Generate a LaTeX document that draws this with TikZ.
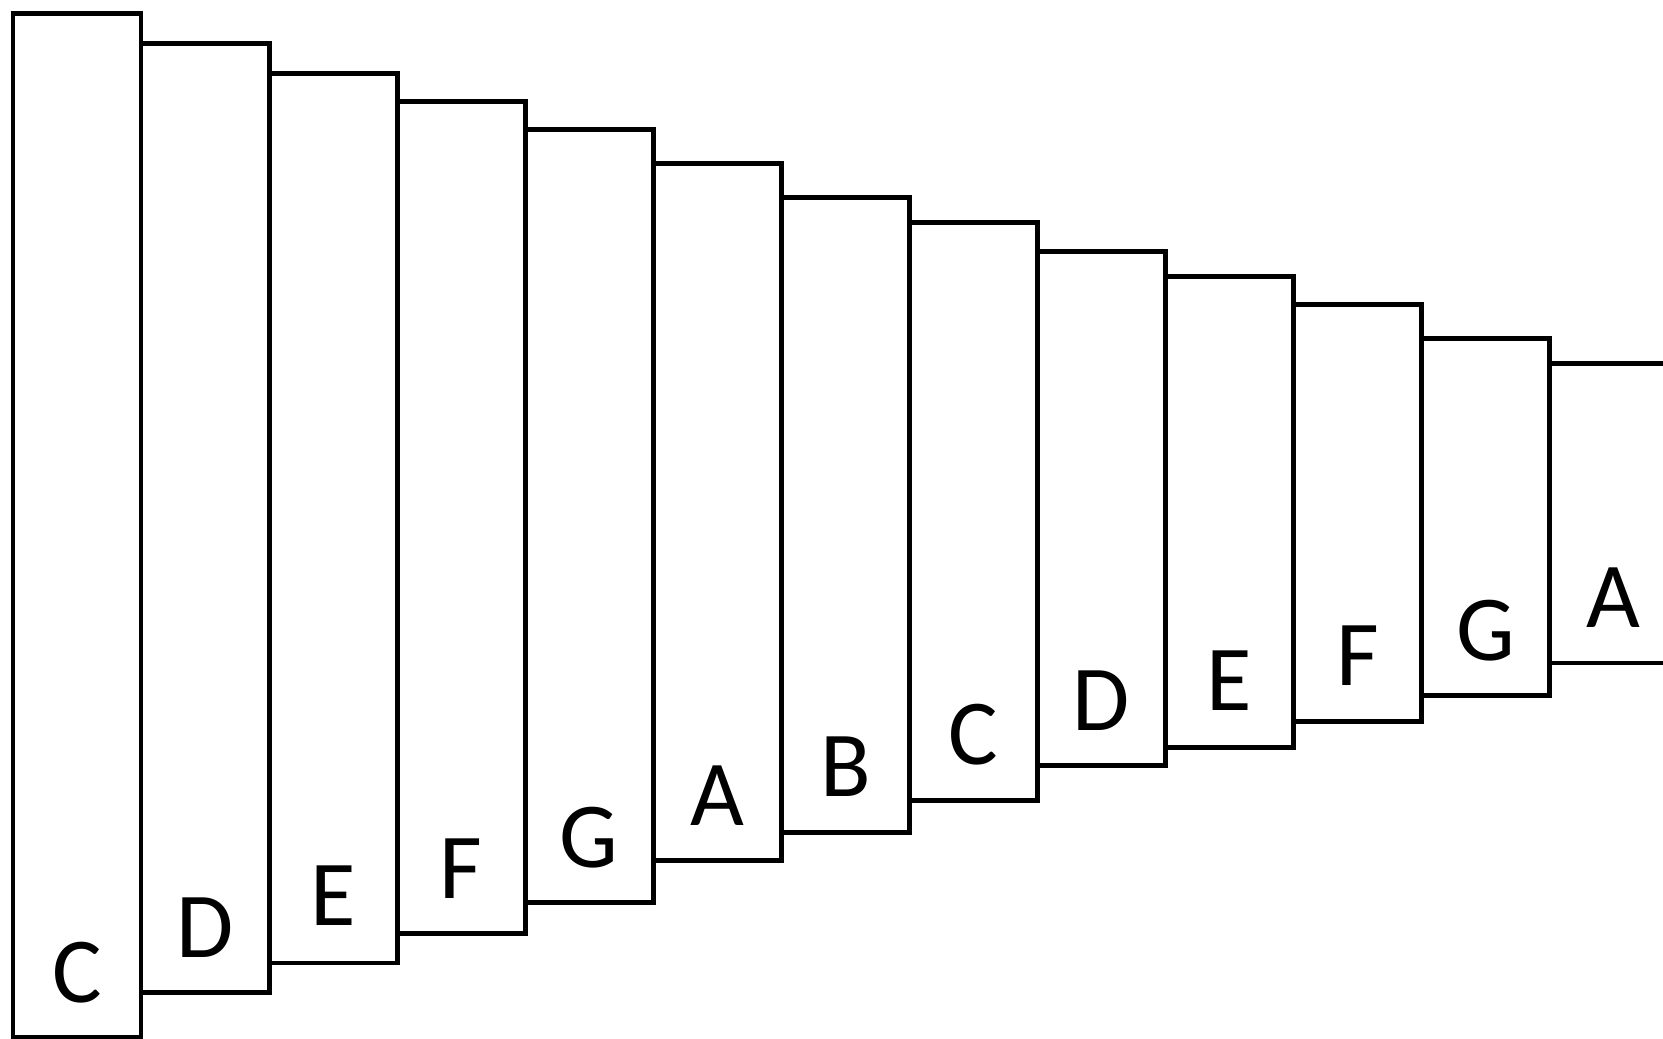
\documentclass[tikz,border=0pt]{standalone}
\usepackage{fontspec}
\setmainfont{Carlito}
\begin{document}
\begin{tikzpicture}[x=1pt,y=-1pt,
  barbox/.style={draw=black, line width=4.7pt, inner sep=0pt, outer sep=0pt, minimum width=128.1pt},
  note/.style={font=\fontsize{93}{100}\selectfont, anchor=base, inner sep=0pt}]
\useasboundingbox (0,0) rectangle (1663,1039);
\clip (0,0) rectangle (1663,1039);
\foreach \i/\t/\b/\l/\s in {0/13.8/1037.3/C/35, 1/43.5/992.7/D/35, 2/73.2/963.0/E/38, 3/101.8/933.3/F/35,
  4/129.4/902.6/G/35, 5/163.3/860.2/A/35, 6/197.3/832.6/B/36, 7/222.7/800.8/C/36, 8/251.4/765.8/D/35,
  9/276.8/747.7/E/37, 10/304.4/721.2/F/36, 11/338.3/695.8/G/35, 12/363.8/662.9/A/35} {
  \pgfmathsetmacro\xl{13+128.06*\i}
  \pgfmathsetmacro\hh{\b-\t}
  \node[barbox, minimum height=\hh pt, anchor=north west] (bar\i) at (\xl,\t) {};
  \node[note] (lab\i) at ([yshift=\s pt]bar\i.south) {\l};
}
\end{tikzpicture}
\end{document}
